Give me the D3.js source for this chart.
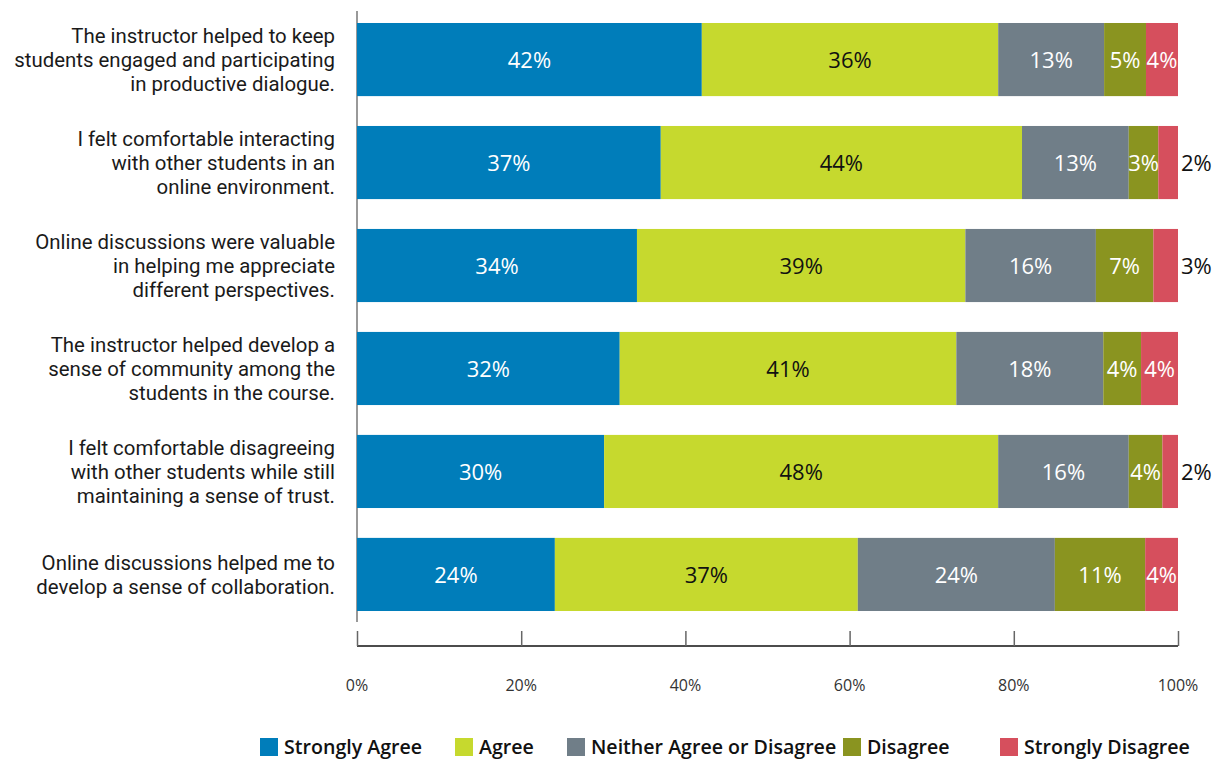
<!DOCTYPE html>
<html>
<head>
<meta charset="utf-8">
<script src="https://cdn.jsdelivr.net/npm/d3@7"></script>
<style>
  body { margin: 0; background: #fff; }
  svg { font-family: "Open Sans", sans-serif; }
  .cat { font-family: Roboto, sans-serif; font-size: 20.4px; fill: #1a1a1a; }
  .tick-label { font-size: 16px; fill: #333; }
  .val { font-size: 22px; }
  .legend text { font-size: 19.6px; font-weight: 600; fill: #111; }
</style>
</head>
<body>
<div id="chart"></div>
<script>
// statements, top to bottom
var statements = [
    ["The instructor helped to keep", "students engaged and participating", "in productive dialogue."],
    ["I felt comfortable interacting", "with other students in an", "online environment."],
    ["Online discussions were valuable", "in helping me appreciate", "different perspectives."],
    ["The instructor helped develop a", "sense of community among the", "students in the course."],
    ["I felt comfortable disagreeing", "with other students while still", "maintaining a sense of trust."],
    ["Online discussions helped me to", "develop a sense of collaboration."]
];
var responses = ["Strongly Agree", "Agree", "Neither Agree or Disagree", "Disagree", "Strongly Disagree"];

// segment lengths (percent) as drawn, per response, same order as statements
var stronglyAgree = [42.0, 37.0, 34.1, 32.0, 30.1, 24.1];
var agree = [36.1, 44.0, 40.0, 41.0, 48.0, 36.9];
var neither = [12.9, 13.0, 15.9, 17.9, 15.9, 24.0];
var disagree = [5.1, 3.6, 7.0, 4.6, 4.1, 11.0];
var stronglyDisagree = [3.9, 2.4, 3.0, 4.5, 1.9, 4.0];

// percentages printed on the bars
var labelStronglyAgree = [42, 37, 34, 32, 30, 24];
var labelAgree = [36, 44, 39, 41, 48, 37];
var labelNeither = [13, 13, 16, 18, 16, 24];
var labelDisagree = [5, 3, 7, 4, 4, 11];
var labelStronglyDisagree = [4, 2, 3, 4, 2, 4];

var xTicks = [0, 20, 40, 60, 80, 100];

var colors = ["#007dba", "#c6d92e", "#707e88", "#8a9420", "#d64f5d"];
var textColors = ["#fff", "#111", "#fff", "#fff", "#fff"];

var values = [stronglyAgree, agree, neither, disagree, stronglyDisagree];
var labels = [labelStronglyAgree, labelAgree, labelNeither, labelDisagree, labelStronglyDisagree];

var rows = statements.map(function(s, i) {
    var r = {id: i};
    responses.forEach(function(k, j) { r[k] = values[j][i]; });
    return r;
});

var width = 1223, height = 760;
var svg = d3.select('#chart').append('svg')
    .attr('width', width)
    .attr('height', height);

var x = d3.scaleLinear().domain([0, 100]).range([357, 1178]);
var y = d3.scaleBand()
    .domain(rows.map(d => d.id))
    .range([11, 623])
    .paddingInner(0.29)
    .paddingOuter(0.1165);
var color = d3.scaleOrdinal().domain(responses).range(colors);

var series = d3.stack().keys(responses)(rows);

// left axis line
svg.append('line')
    .attr('x1', x(0)).attr('x2', x(0))
    .attr('y1', 11).attr('y2', 622)
    .attr('stroke', '#777').attr('stroke-width', 1.5);

// bottom axis with inward ticks
var axisY = 646;
var xAxis = svg.append('g')
    .attr('transform', 'translate(0,' + axisY + ')')
    .call(d3.axisBottom(x)
        .tickValues(xTicks)
        .tickSize(-15)
        .tickFormat(''));
xAxis.select('.domain').attr('stroke', '#111').attr('stroke-width', 1.5).attr('d', 'M' + x(0) + ',0H' + x(100));
xAxis.selectAll('.tick line').attr('stroke', '#666').attr('stroke-width', 1.5);

svg.selectAll('.tick-label')
    .data(xTicks)
    .enter().append('text')
    .attr('class', 'tick-label')
    .attr('x', d => x(d))
    .attr('y', 691)
    .attr('text-anchor', 'middle')
    .text(d => d + '%');

// bars
var layer = svg.selectAll('.layer')
    .data(series)
    .enter().append('g')
    .attr('class', 'layer')
    .attr('fill', d => color(d.key));

layer.selectAll('rect')
    .data(d => d)
    .enter().append('rect')
    .attr('x', d => x(d[0]))
    .attr('y', d => y(d.data.id))
    .attr('width', d => x(d[1]) - x(d[0]))
    .attr('height', y.bandwidth());

// value labels; thin last segments get their label outside the bar
series.forEach(function(s, k) {
    var outside = d => k === 4 && d.data[s.key] < 3.5;
    svg.append('g').selectAll('text')
        .data(s)
        .enter().append('text')
        .attr('class', 'val')
        .attr('x', d => outside(d) ? x(d[1]) + 3 : (x(d[0]) + x(d[1])) / 2)
        .attr('y', d => y(d.data.id) + y.bandwidth() / 2)
        .attr('dy', '0.4em')
        .attr('text-anchor', d => outside(d) ? 'start' : 'middle')
        .attr('fill', d => outside(d) ? '#111' : textColors[k])
        .text(d => labels[k][d.data.id] + '%');
});

// category labels
statements.forEach(function(lines, i) {
    var cy = y(i) + y.bandwidth() / 2;
    var lh = 24;
    var t = svg.append('text')
        .attr('class', 'cat')
        .attr('text-anchor', 'end')
        .attr('y', cy - (lines.length - 1) * lh / 2);
    lines.forEach(function(l, j) {
        t.append('tspan')
            .attr('x', 335)
            .attr('dy', j === 0 ? '0.36em' : lh)
            .text(l);
    });
});

// legend
var legendX = [260, 455, 567, 843, 1000];
var legend = svg.append('g').attr('class', 'legend')
    .selectAll('g')
    .data(responses)
    .enter().append('g')
    .attr('transform', (d, i) => 'translate(' + legendX[i] + ',738)');
legend.append('rect')
    .attr('width', 18).attr('height', 18)
    .attr('fill', d => color(d));
legend.append('text')
    .attr('x', 24)
    .attr('y', 9)
    .attr('dy', '0.36em')
    .text(d => d);
</script>
</body>
</html>
